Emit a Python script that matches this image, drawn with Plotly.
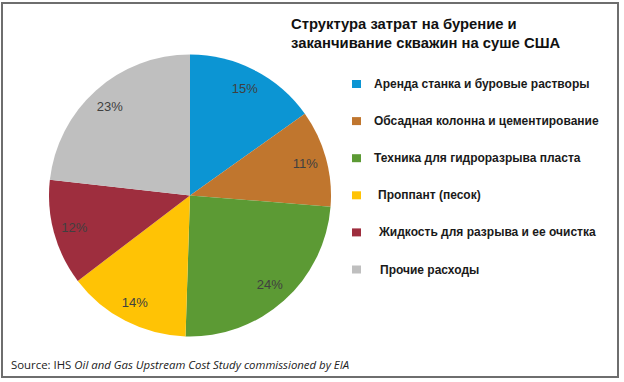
import plotly.graph_objects as go

categories = [
    "Аренда станка и буровые растворы",
    "Обсадная колонна и цементирование",
    "Техника для гидроразрыва пласта",
    "Проппант (песок)",
    "Жидкость для разрыва и ее очистка",
    "Прочие расходы",
]
values = [15, 11, 24, 14, 12, 23]
colors = ["#0C95D3", "#C0762E", "#5C9A34", "#FFC305", "#9E2E3E", "#BFBFBF"]
title_lines = ["Структура затрат на бурение и", "заканчивание скважин на суше США"]

W, H = 624, 382
pie_domain = dict(x=[49 / W, 331 / W], y=[(H - 338) / H, (H - 53) / H])

fig = go.Figure()
# filled pie
fig.add_trace(go.Pie(
    labels=categories,
    values=values,
    sort=False,
    direction="clockwise",
    rotation=0,
    marker=dict(colors=colors, line=dict(width=0)),
    textinfo="none",
    domain=pie_domain,
    showlegend=False,
    hoverinfo="label+percent",
))
# transparent ring carrying the labels (places them further out, like Excel)
fig.add_trace(go.Pie(
    labels=categories,
    values=values,
    sort=False,
    direction="clockwise",
    rotation=0,
    hole=0.7,
    marker=dict(colors=["rgba(0,0,0,0)"] * len(values), line=dict(width=0)),
    texttemplate="%{value}%",
    textposition="inside",
    insidetextorientation="horizontal",
    textfont=dict(family="Liberation Sans, Arial", size=13, color="#404040"),
    domain=pie_domain,
    showlegend=False,
    hoverinfo="skip",
))

shapes = [dict(type="rect", xref="paper", yref="paper",
               x0=2 / W, x1=618 / W, y0=(H - 377) / H, y1=(H - 3) / H,
               line=dict(color="#6E6E6E", width=2), fillcolor="rgba(0,0,0,0)")]
annotations = []

# title
annotations.append(dict(
    x=289 / W, y=(H - 14) / H, xref="paper", yref="paper",
    xanchor="left", yanchor="top", align="left", showarrow=False,
    text="<b>" + "<br>".join(title_lines) + "</b>",
    font=dict(family="Liberation Sans, Arial", size=14.8, color="#111111"),
))

# legend drawn from categories/colors
leg_y0 = 84
leg_step = 37.1
text_x = [372, 372, 372, 376, 376, 378]
for i, (cat, col) in enumerate(zip(categories, colors)):
    yc = leg_y0 + i * leg_step
    shapes.append(dict(type="rect", xref="paper", yref="paper",
                       x0=352 / W, x1=361 / W, y0=(H - yc - 4) / H, y1=(H - yc + 4) / H,
                       line=dict(width=0), fillcolor=col))
    annotations.append(dict(
        x=text_x[i] / W, y=(H - yc) / H, xref="paper", yref="paper",
        xanchor="left", yanchor="middle", showarrow=False,
        text="<b>" + cat + "</b>",
        font=dict(family="Liberation Sans, Arial", size=12, color="#1a1a1a"),
    ))

# source
annotations.append(dict(
    x=9 / W, y=(H - 364) / H, xref="paper", yref="paper",
    xanchor="left", yanchor="middle", showarrow=False,
    text="Source: IHS <i>Oil and Gas Upstream Cost Study commissioned by EIA</i>",
    font=dict(family="Open Sans, Liberation Sans", size=11.4, color="#222222"),
))

fig.update_layout(
    width=W, height=H,
    margin=dict(l=0, r=0, t=0, b=0),
    paper_bgcolor="white",
    plot_bgcolor="white",
    shapes=shapes,
    annotations=annotations,
)

fig.write_html("out.html", config={"displayModeBar": False},
               post_script="document.body.style.margin='0';")
